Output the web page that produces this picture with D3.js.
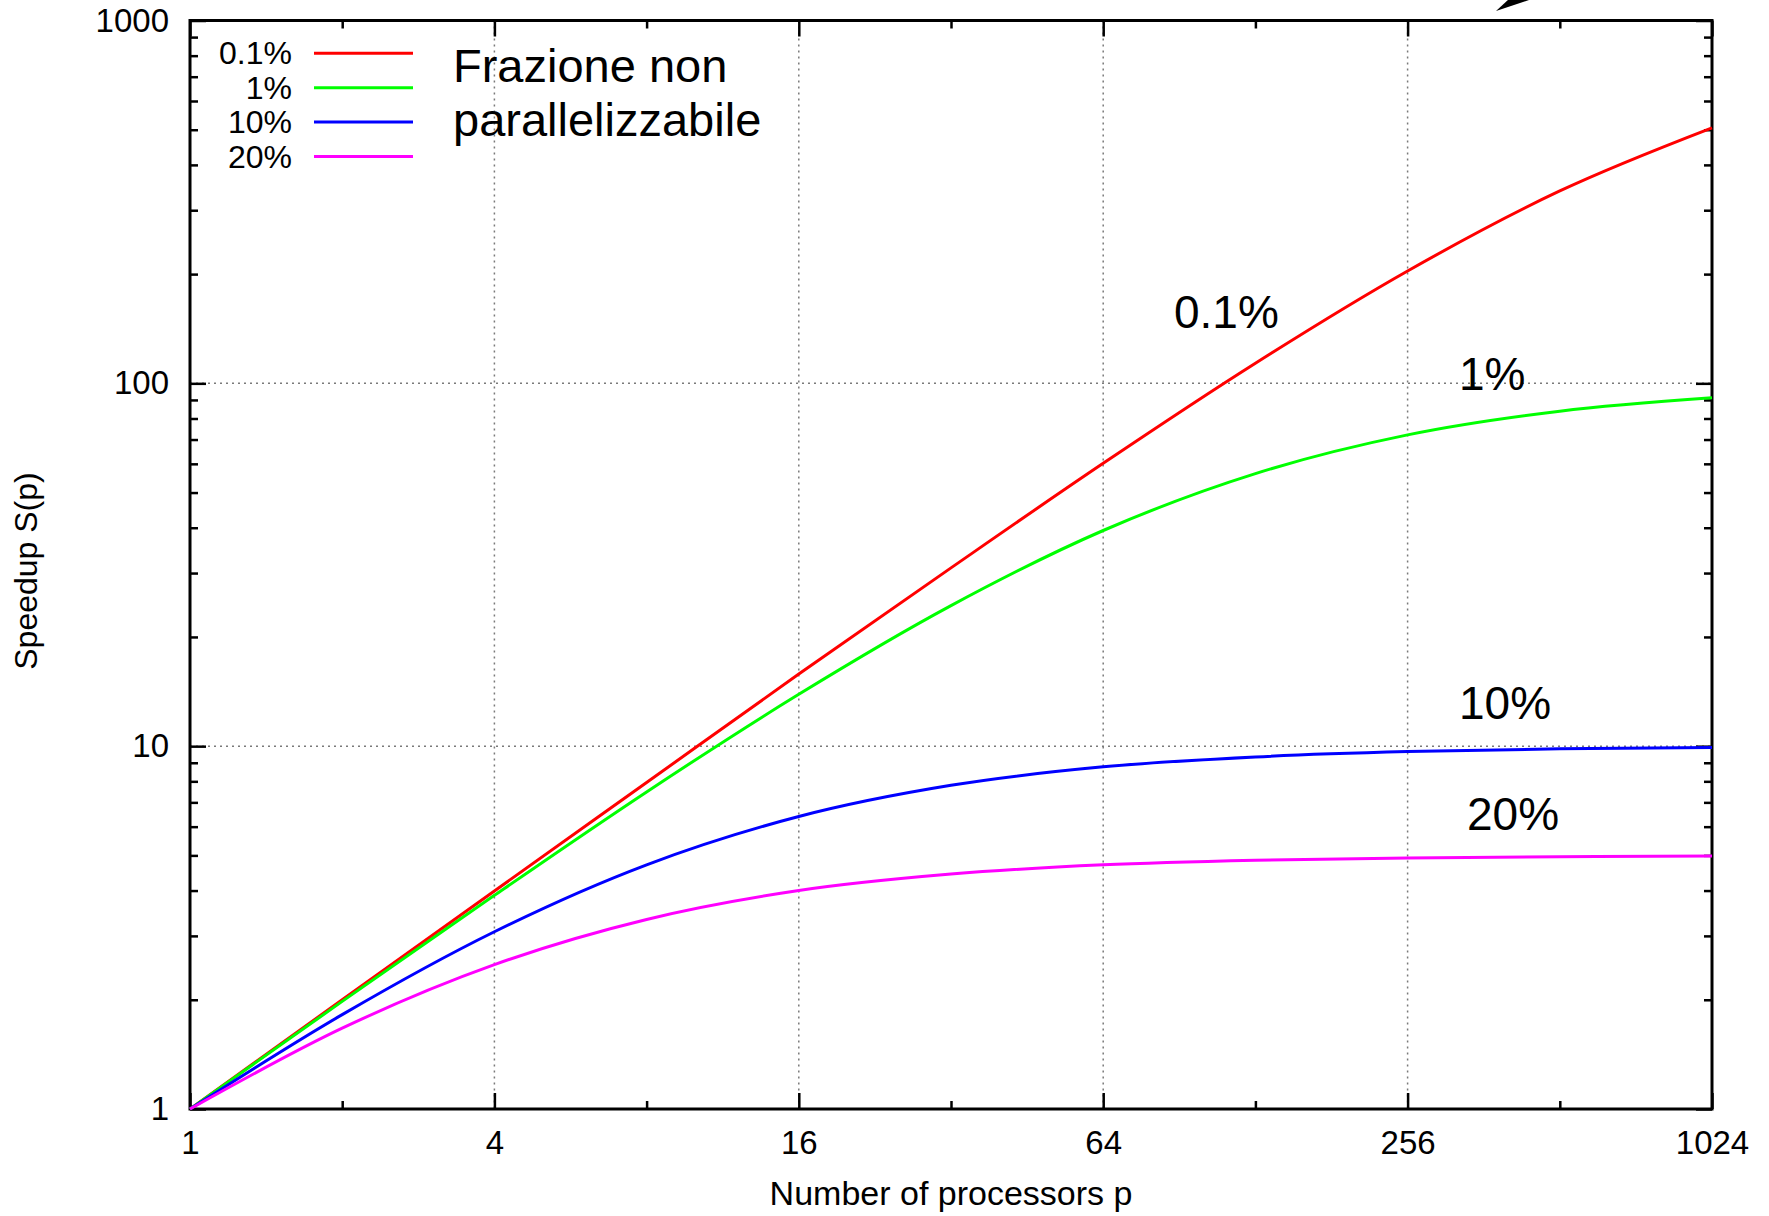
<!DOCTYPE html>
<html>
<head>
<meta charset="utf-8">
<script src="https://cdn.jsdelivr.net/npm/d3@7"></script>
<style>
  body { margin: 0; background: #fff; }
  svg { display: block; }
  text { font-family: "Liberation Sans", Arial, Helvetica, sans-serif; fill: #000; }
</style>
</head>
<body>
<div id="chart"></div>
<script>
// - - - - - - - - - - - - - - - - - - - -
// DATA
// - - - - - - - - - - - - - - - - - - - -
const processors = [1, 2, 4, 8, 16, 32, 64, 128, 256, 512, 1024];
const speedup01 = [1, 2.0, 3.99, 7.94, 15.8, 31.0, 60.2, 113.6, 204, 339, 506];
const speedup1 = [1, 1.98, 3.88, 7.48, 13.9, 24.4, 39.3, 56.4, 72.1, 83.8, 91.2];
const speedup10 = [1, 1.82, 3.08, 4.71, 6.4, 7.8, 8.77, 9.34, 9.66, 9.83, 9.91];
const speedup20 = [1, 1.67, 2.5, 3.33, 4.0, 4.44, 4.71, 4.85, 4.92, 4.96, 4.98];

const seriesNames = ["0.1%", "1%", "10%", "20%"];
const seriesColors = ["#ff0000", "#00ff00", "#0000ff", "#ff00ff"];

const xTickValues = [1, 4, 16, 64, 256, 1024];
const xMinorValues = [2, 8, 32, 128, 512];
const yTickValues = [1, 10, 100, 1000];
const yTickLabels = ["1", "10", "100", "1000"];

const xTitle = "Number of processors p";
const yTitle = "Speedup S(p)";
const legendTitle = ["Frazione non", "parallelizzabile"];

// - - - - - - - - - - - - - - - - - - - -
// SETUP
// - - - - - - - - - - - - - - - - - - - -
const W = 1769, H = 1216;
const plotLeft = 190, plotRight = 1712, plotTop = 20.5, plotBottom = 1109;

const svg = d3.select("#chart").append("svg").attr("width", W).attr("height", H);
svg.append("rect").attr("width", W).attr("height", H).attr("fill", "#fff");

const x = d3.scaleLog().base(2).domain([1, 1024]).range([plotLeft, plotRight]);
const y = d3.scaleLog().base(10).domain([1, 1000]).range([plotBottom, plotTop]);

// minor y ticks 2..9 of each decade
let yMinorValues = [];
[1, 10, 100].forEach(d => d3.range(2, 10).forEach(k => yMinorValues.push(d * k)));

//grid lines (dotted)
const gridX = xTickValues.filter(v => v !== 1 && v !== 1024);
const gridY = yTickValues.filter(v => v !== 1 && v !== 1000);
svg.append("g").selectAll("line").data(gridX).join("line")
  .attr("x1", d => x(d)).attr("x2", d => x(d)).attr("y1", plotTop).attr("y2", plotBottom)
  .attr("stroke", "#7a7a7a").attr("stroke-width", 1.5).attr("stroke-dasharray", "2,4");
svg.append("g").selectAll("line").data(gridY).join("line")
  .attr("y1", d => y(d)).attr("y2", d => y(d)).attr("x1", plotLeft).attr("x2", plotRight)
  .attr("stroke", "#7a7a7a").attr("stroke-width", 1.5).attr("stroke-dasharray", "2,4");

//axes with ticks pointing inside
function styleAxis(g) {
  g.select(".domain").remove();
  g.selectAll(".tick line").attr("stroke", "#000").attr("stroke-width", 2.5);
  g.attr("font-family", null).attr("font-size", 33);
  g.selectAll("text").attr("fill", "#000");
}

svg.append("g").attr("transform", `translate(0,${plotBottom})`)
  .call(d3.axisBottom(x).tickValues(xTickValues).tickSize(-16).tickPadding(22).tickFormat(d3.format("d")))
  .call(styleAxis);
svg.append("g").attr("transform", `translate(0,${plotBottom})`)
  .call(d3.axisBottom(x).tickValues(xMinorValues).tickSize(-8).tickFormat(""))
  .call(styleAxis);
svg.append("g").attr("transform", `translate(0,${plotTop})`)
  .call(d3.axisTop(x).tickValues(xTickValues).tickSize(-16).tickFormat(""))
  .call(styleAxis);
svg.append("g").attr("transform", `translate(0,${plotTop})`)
  .call(d3.axisTop(x).tickValues(xMinorValues).tickSize(-8).tickFormat(""))
  .call(styleAxis);

svg.append("g").attr("transform", `translate(${plotLeft},0)`)
  .call(d3.axisLeft(y).tickValues(yTickValues).tickSize(-16).tickPadding(21).tickFormat((d, i) => yTickLabels[i]))
  .call(styleAxis);
svg.append("g").attr("transform", `translate(${plotLeft},0)`)
  .call(d3.axisLeft(y).tickValues(yMinorValues).tickSize(-8).tickFormat(""))
  .call(styleAxis);
svg.append("g").attr("transform", `translate(${plotRight},0)`)
  .call(d3.axisRight(y).tickValues(yTickValues).tickSize(-16).tickFormat(""))
  .call(styleAxis);
svg.append("g").attr("transform", `translate(${plotRight},0)`)
  .call(d3.axisRight(y).tickValues(yMinorValues).tickSize(-8).tickFormat(""))
  .call(styleAxis);

//frame
svg.append("rect").attr("x", plotLeft).attr("y", plotTop)
  .attr("width", plotRight - plotLeft).attr("height", plotBottom - plotTop)
  .attr("fill", "none").attr("stroke", "#000").attr("stroke-width", 3);

//axis titles
svg.append("text").attr("x", (plotLeft + plotRight) / 2).attr("y", 1205).attr("text-anchor", "middle")
  .attr("font-size", 34).text(xTitle);
svg.append("text").attr("transform", "translate(37,571) rotate(-90)").attr("text-anchor", "middle")
  .attr("font-size", 32).text(yTitle);

// - - - - - - - - - - - - - - - - - - - -
// CURVES
// - - - - - - - - - - - - - - - - - - - -
const allSeries = [speedup01, speedup1, speedup10, speedup20];
let line = d3.line().x(d => x(d.p)).y(d => y(d.s)).curve(d3.curveMonotoneX);

allSeries.forEach((vals, i) => {
  let pts = processors.map((p, j) => ({ p: p, s: vals[j] }));
  svg.append("path").datum(pts).attr("d", line)
    .attr("fill", "none").attr("stroke", seriesColors[i]).attr("stroke-width", 3);
});

// - - - - - - - - - - - - - - - - - - - -
// LEGEND
// - - - - - - - - - - - - - - - - - - - -
const legendY = [53.3, 87.7, 122, 156.5];
seriesNames.forEach((name, i) => {
  svg.append("text").attr("x", 292).attr("y", legendY[i] + 11).attr("text-anchor", "end")
    .attr("font-size", 32).text(name);
  svg.append("line").attr("x1", 314).attr("x2", 413).attr("y1", legendY[i]).attr("y2", legendY[i])
    .attr("stroke", seriesColors[i]).attr("stroke-width", 3);
});
legendTitle.forEach((t, i) => {
  svg.append("text").attr("x", 453).attr("y", 82 + i * 54).attr("font-size", 47).text(t);
});

//labels next to the curves
const curveLabelPos = [[1174, 328], [1459, 390], [1459, 719], [1467, 830]];
seriesNames.forEach((name, i) => {
  svg.append("text").attr("x", curveLabelPos[i][0]).attr("y", curveLabelPos[i][1])
    .attr("font-size", 46).text(name);
});

//arrow head cut by the top edge
svg.append("polygon").attr("points", "1496,11 1509,-1 1532,-1").attr("fill", "#000");
</script>
</body>
</html>
